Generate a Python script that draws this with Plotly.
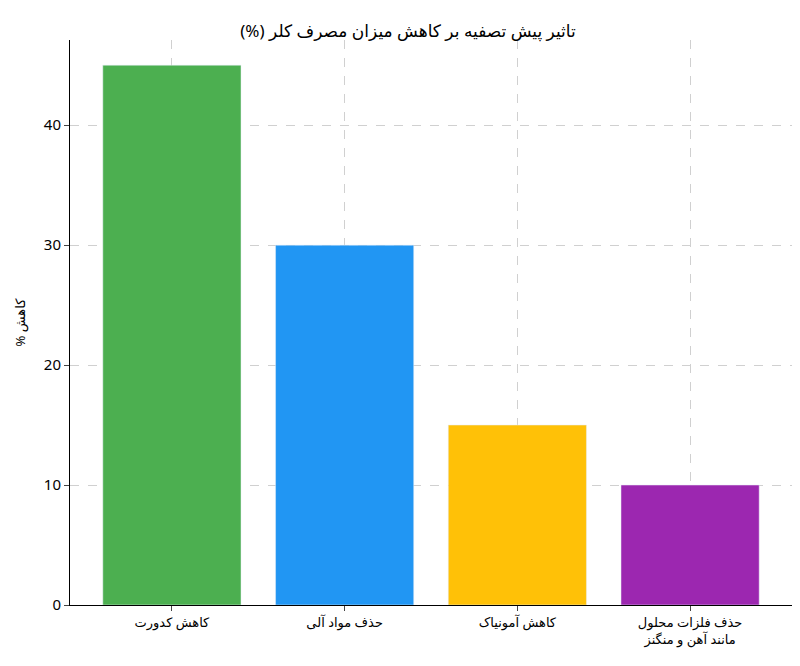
import plotly.graph_objects as go

# categories and values
categories = ["کاهش کدورت", "حذف مواد آلی", "کاهش آمونیاک", "حذف فلزات محلول<br>مانند آهن و منگنز"]
reduction = [45, 30, 15, 10]
colors = ["#4CAF50", "#2196F3", "#FFC107", "#9C27B0"]

fig = go.Figure(go.Bar(x=categories, y=reduction, marker_color=colors, width=0.8))

fig.update_layout(
    width=800, height=666,
    title=dict(text="(%) تاثیر پیش تصفیه بر کاهش میزان مصرف کلر", x=0.5, y=0.975,
               font=dict(size=17, color="black")),
    font=dict(family="Noto Sans, DejaVu Sans", size=13, color="black"),
    plot_bgcolor="white", paper_bgcolor="white",
    margin=dict(l=53, r=16, t=32, b=69),
    showlegend=False,
    yaxis_title=dict(text="% کاهش", font=dict(size=13)),
)
fig.update_xaxes(range=[-0.59, 3.59], showline=True, linecolor="black", ticks="outside",
                 showgrid=True, gridcolor="#d0d0d0", griddash="dash", tickfont=dict(size=13))
fig.update_yaxes(range=[0, 47.1], showline=True, linecolor="black", ticks="outside",
                 tickvals=[0, 10, 20, 30, 40], showgrid=True, gridcolor="#d0d0d0",
                 griddash="dash", zeroline=False, tickfont=dict(size=15))

fig.write_html("out.html")
